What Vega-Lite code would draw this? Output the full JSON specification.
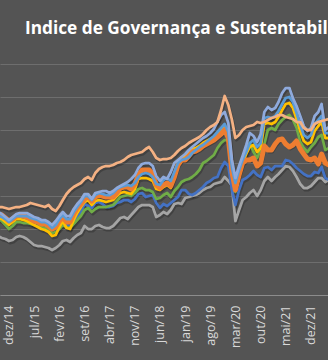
{
"$schema":"https://vega.github.io/schema/vega-lite/v6.json",
"width":328,"height":231,
"autosize":{"type":"none"},
"padding":{"left":0,"top":64,"right":0,"bottom":65},
"background":"#545454",
"title":{"text":"Indice de Governança e Sustentabilidade","anchor":"start","frame":"group","dx":25,"offset":13,"baseline":"alphabetic","font":"Open Sans","fontSize":17.25,"fontWeight":"bold","color":"#ffffff"},
"config":{"view":{"stroke":null}},
"datasets":{"series":[
{"s":"A","d":"2014-09","v":59},{"s":"A","d":"2014-10","v":57},{"s":"A","d":"2014-11","v":56},{"s":"A","d":"2014-12","v":54},{"s":"A","d":"2015-01","v":55},{"s":"A","d":"2015-02","v":58},{"s":"A","d":"2015-03","v":59},{"s":"A","d":"2015-04","v":58},{"s":"A","d":"2015-05","v":56},{"s":"A","d":"2015-06","v":53},{"s":"A","d":"2015-07","v":50},{"s":"A","d":"2015-08","v":49},{"s":"A","d":"2015-09","v":49},{"s":"A","d":"2015-10","v":48},{"s":"A","d":"2015-11","v":47},{"s":"A","d":"2015-12","v":45},{"s":"A","d":"2016-01","v":47},{"s":"A","d":"2016-02","v":50},{"s":"A","d":"2016-03","v":54},{"s":"A","d":"2016-04","v":55},{"s":"A","d":"2016-05","v":53},{"s":"A","d":"2016-06","v":57},{"s":"A","d":"2016-07","v":60},{"s":"A","d":"2016-08","v":62},{"s":"A","d":"2016-09","v":69},{"s":"A","d":"2016-10","v":66},{"s":"A","d":"2016-11","v":66},{"s":"A","d":"2016-12","v":69},{"s":"A","d":"2017-01","v":70},{"s":"A","d":"2017-02","v":68},{"s":"A","d":"2017-03","v":67},{"s":"A","d":"2017-04","v":67},{"s":"A","d":"2017-05","v":69},{"s":"A","d":"2017-06","v":73},{"s":"A","d":"2017-07","v":77},{"s":"A","d":"2017-08","v":78},{"s":"A","d":"2017-09","v":76},{"s":"A","d":"2017-10","v":80},{"s":"A","d":"2017-11","v":84},{"s":"A","d":"2017-12","v":88},{"s":"A","d":"2018-01","v":90},{"s":"A","d":"2018-02","v":90},{"s":"A","d":"2018-03","v":90},{"s":"A","d":"2018-04","v":88},{"s":"A","d":"2018-05","v":78},{"s":"A","d":"2018-06","v":80},{"s":"A","d":"2018-07","v":83},{"s":"A","d":"2018-08","v":81},{"s":"A","d":"2018-09","v":85},{"s":"A","d":"2018-10","v":91},{"s":"A","d":"2018-11","v":92},{"s":"A","d":"2018-12","v":91},{"s":"A","d":"2019-01","v":97},{"s":"A","d":"2019-02","v":98},{"s":"A","d":"2019-03","v":99},{"s":"A","d":"2019-04","v":100},{"s":"A","d":"2019-05","v":102},{"s":"A","d":"2019-06","v":105},{"s":"A","d":"2019-07","v":107},{"s":"A","d":"2019-08","v":108},{"s":"A","d":"2019-09","v":111},{"s":"A","d":"2019-10","v":112},{"s":"A","d":"2019-11","v":113},{"s":"A","d":"2019-12","v":118},{"s":"A","d":"2020-01","v":114},{"s":"A","d":"2020-02","v":109},{"s":"A","d":"2020-03","v":74},{"s":"A","d":"2020-04","v":85},{"s":"A","d":"2020-05","v":95},{"s":"A","d":"2020-06","v":98},{"s":"A","d":"2020-07","v":102},{"s":"A","d":"2020-08","v":105},{"s":"A","d":"2020-09","v":99},{"s":"A","d":"2020-10","v":105},{"s":"A","d":"2020-11","v":114},{"s":"A","d":"2020-12","v":118},{"s":"A","d":"2021-01","v":114},{"s":"A","d":"2021-02","v":118},{"s":"A","d":"2021-03","v":121},{"s":"A","d":"2021-04","v":125},{"s":"A","d":"2021-05","v":129},{"s":"A","d":"2021-06","v":128},{"s":"A","d":"2021-07","v":124},{"s":"A","d":"2021-08","v":118},{"s":"A","d":"2021-09","v":111},{"s":"A","d":"2021-10","v":107},{"s":"A","d":"2021-11","v":107},{"s":"A","d":"2021-12","v":109},{"s":"A","d":"2022-01","v":113},{"s":"A","d":"2022-02","v":117},{"s":"A","d":"2022-03","v":117},{"s":"A","d":"2022-04","v":113},{"s":"A","d":"2022-05","v":115},
{"s":"B","d":"2014-09","v":78},{"s":"B","d":"2014-10","v":77},{"s":"B","d":"2014-11","v":74},{"s":"B","d":"2014-12","v":72},{"s":"B","d":"2015-01","v":74},{"s":"B","d":"2015-02","v":77},{"s":"B","d":"2015-03","v":77},{"s":"B","d":"2015-04","v":76},{"s":"B","d":"2015-05","v":75},{"s":"B","d":"2015-06","v":74},{"s":"B","d":"2015-07","v":73},{"s":"B","d":"2015-08","v":72},{"s":"B","d":"2015-09","v":70},{"s":"B","d":"2015-10","v":70},{"s":"B","d":"2015-11","v":68},{"s":"B","d":"2015-12","v":65},{"s":"B","d":"2016-01","v":66},{"s":"B","d":"2016-02","v":70},{"s":"B","d":"2016-03","v":73},{"s":"B","d":"2016-04","v":70},{"s":"B","d":"2016-05","v":69},{"s":"B","d":"2016-06","v":73},{"s":"B","d":"2016-07","v":77},{"s":"B","d":"2016-08","v":83},{"s":"B","d":"2016-09","v":91},{"s":"B","d":"2016-10","v":89},{"s":"B","d":"2016-11","v":87},{"s":"B","d":"2016-12","v":92},{"s":"B","d":"2017-01","v":93},{"s":"B","d":"2017-02","v":91},{"s":"B","d":"2017-03","v":88},{"s":"B","d":"2017-04","v":88},{"s":"B","d":"2017-05","v":89},{"s":"B","d":"2017-06","v":92},{"s":"B","d":"2017-07","v":93},{"s":"B","d":"2017-08","v":95},{"s":"B","d":"2017-09","v":95},{"s":"B","d":"2017-10","v":93},{"s":"B","d":"2017-11","v":96},{"s":"B","d":"2017-12","v":101},{"s":"B","d":"2018-01","v":102},{"s":"B","d":"2018-02","v":98},{"s":"B","d":"2018-03","v":99},{"s":"B","d":"2018-04","v":100},{"s":"B","d":"2018-05","v":92},{"s":"B","d":"2018-06","v":87},{"s":"B","d":"2018-07","v":91},{"s":"B","d":"2018-08","v":89},{"s":"B","d":"2018-09","v":92},{"s":"B","d":"2018-10","v":95},{"s":"B","d":"2018-11","v":98},{"s":"B","d":"2018-12","v":105},{"s":"B","d":"2019-01","v":105},{"s":"B","d":"2019-02","v":101},{"s":"B","d":"2019-03","v":100},{"s":"B","d":"2019-04","v":102},{"s":"B","d":"2019-05","v":105},{"s":"B","d":"2019-06","v":108},{"s":"B","d":"2019-07","v":112},{"s":"B","d":"2019-08","v":114},{"s":"B","d":"2019-09","v":117},{"s":"B","d":"2019-10","v":118},{"s":"B","d":"2019-11","v":127},{"s":"B","d":"2019-12","v":133},{"s":"B","d":"2020-01","v":129},{"s":"B","d":"2020-02","v":105},{"s":"B","d":"2020-03","v":90},{"s":"B","d":"2020-04","v":105},{"s":"B","d":"2020-05","v":115},{"s":"B","d":"2020-06","v":117},{"s":"B","d":"2020-07","v":120},{"s":"B","d":"2020-08","v":124},{"s":"B","d":"2020-09","v":120},{"s":"B","d":"2020-10","v":118},{"s":"B","d":"2020-11","v":127},{"s":"B","d":"2020-12","v":128},{"s":"B","d":"2021-01","v":125},{"s":"B","d":"2021-02","v":129},{"s":"B","d":"2021-03","v":129},{"s":"B","d":"2021-04","v":129},{"s":"B","d":"2021-05","v":135},{"s":"B","d":"2021-06","v":134},{"s":"B","d":"2021-07","v":131},{"s":"B","d":"2021-08","v":127},{"s":"B","d":"2021-09","v":124},{"s":"B","d":"2021-10","v":121},{"s":"B","d":"2021-11","v":119},{"s":"B","d":"2021-12","v":119},{"s":"B","d":"2022-01","v":123},{"s":"B","d":"2022-02","v":122},{"s":"B","d":"2022-03","v":128},{"s":"B","d":"2022-04","v":117},{"s":"B","d":"2022-05","v":115},
{"s":"C","d":"2014-09","v":76},{"s":"C","d":"2014-10","v":74},{"s":"C","d":"2014-11","v":70},{"s":"C","d":"2014-12","v":66},{"s":"C","d":"2015-01","v":69},{"s":"C","d":"2015-02","v":73},{"s":"C","d":"2015-03","v":73},{"s":"C","d":"2015-04","v":72},{"s":"C","d":"2015-05","v":72},{"s":"C","d":"2015-06","v":71},{"s":"C","d":"2015-07","v":70},{"s":"C","d":"2015-08","v":69},{"s":"C","d":"2015-09","v":68},{"s":"C","d":"2015-10","v":67},{"s":"C","d":"2015-11","v":65},{"s":"C","d":"2015-12","v":62},{"s":"C","d":"2016-01","v":63},{"s":"C","d":"2016-02","v":66},{"s":"C","d":"2016-03","v":70},{"s":"C","d":"2016-04","v":68},{"s":"C","d":"2016-05","v":67},{"s":"C","d":"2016-06","v":71},{"s":"C","d":"2016-07","v":75},{"s":"C","d":"2016-08","v":79},{"s":"C","d":"2016-09","v":85},{"s":"C","d":"2016-10","v":87},{"s":"C","d":"2016-11","v":83},{"s":"C","d":"2016-12","v":86},{"s":"C","d":"2017-01","v":88},{"s":"C","d":"2017-02","v":88},{"s":"C","d":"2017-03","v":88},{"s":"C","d":"2017-04","v":89},{"s":"C","d":"2017-05","v":90},{"s":"C","d":"2017-06","v":94},{"s":"C","d":"2017-07","v":98},{"s":"C","d":"2017-08","v":99},{"s":"C","d":"2017-09","v":100},{"s":"C","d":"2017-10","v":99},{"s":"C","d":"2017-11","v":102},{"s":"C","d":"2017-12","v":106},{"s":"C","d":"2018-01","v":107},{"s":"C","d":"2018-02","v":105},{"s":"C","d":"2018-03","v":105},{"s":"C","d":"2018-04","v":103},{"s":"C","d":"2018-05","v":96},{"s":"C","d":"2018-06","v":97},{"s":"C","d":"2018-07","v":100},{"s":"C","d":"2018-08","v":102},{"s":"C","d":"2018-09","v":98},{"s":"C","d":"2018-10","v":104},{"s":"C","d":"2018-11","v":108},{"s":"C","d":"2018-12","v":113},{"s":"C","d":"2019-01","v":115},{"s":"C","d":"2019-02","v":116},{"s":"C","d":"2019-03","v":118},{"s":"C","d":"2019-04","v":121},{"s":"C","d":"2019-05","v":125},{"s":"C","d":"2019-06","v":132},{"s":"C","d":"2019-07","v":134},{"s":"C","d":"2019-08","v":137},{"s":"C","d":"2019-09","v":140},{"s":"C","d":"2019-10","v":147},{"s":"C","d":"2019-11","v":152},{"s":"C","d":"2019-12","v":155},{"s":"C","d":"2020-01","v":155},{"s":"C","d":"2020-02","v":120},{"s":"C","d":"2020-03","v":103},{"s":"C","d":"2020-04","v":123},{"s":"C","d":"2020-05","v":135},{"s":"C","d":"2020-06","v":145},{"s":"C","d":"2020-07","v":152},{"s":"C","d":"2020-08","v":143},{"s":"C","d":"2020-09","v":137},{"s":"C","d":"2020-10","v":145},{"s":"C","d":"2020-11","v":151},{"s":"C","d":"2020-12","v":165},{"s":"C","d":"2021-01","v":167},{"s":"C","d":"2021-02","v":165},{"s":"C","d":"2021-03","v":171},{"s":"C","d":"2021-04","v":175},{"s":"C","d":"2021-05","v":178},{"s":"C","d":"2021-06","v":180},{"s":"C","d":"2021-07","v":175},{"s":"C","d":"2021-08","v":167},{"s":"C","d":"2021-09","v":153},{"s":"C","d":"2021-10","v":147},{"s":"C","d":"2021-11","v":143},{"s":"C","d":"2021-12","v":148},{"s":"C","d":"2022-01","v":152},{"s":"C","d":"2022-02","v":158},{"s":"C","d":"2022-03","v":160},{"s":"C","d":"2022-04","v":145},{"s":"C","d":"2022-05","v":147},
{"s":"D","d":"2014-09","v":77},{"s":"D","d":"2014-10","v":76},{"s":"D","d":"2014-11","v":73},{"s":"D","d":"2014-12","v":70},{"s":"D","d":"2015-01","v":73},{"s":"D","d":"2015-02","v":76},{"s":"D","d":"2015-03","v":76},{"s":"D","d":"2015-04","v":75},{"s":"D","d":"2015-05","v":74},{"s":"D","d":"2015-06","v":72},{"s":"D","d":"2015-07","v":70},{"s":"D","d":"2015-08","v":68},{"s":"D","d":"2015-09","v":66},{"s":"D","d":"2015-10","v":65},{"s":"D","d":"2015-11","v":63},{"s":"D","d":"2015-12","v":59},{"s":"D","d":"2016-01","v":60},{"s":"D","d":"2016-02","v":68},{"s":"D","d":"2016-03","v":74},{"s":"D","d":"2016-04","v":67},{"s":"D","d":"2016-05","v":66},{"s":"D","d":"2016-06","v":75},{"s":"D","d":"2016-07","v":82},{"s":"D","d":"2016-08","v":88},{"s":"D","d":"2016-09","v":93},{"s":"D","d":"2016-10","v":95},{"s":"D","d":"2016-11","v":90},{"s":"D","d":"2016-12","v":94},{"s":"D","d":"2017-01","v":95},{"s":"D","d":"2017-02","v":94},{"s":"D","d":"2017-03","v":93},{"s":"D","d":"2017-04","v":94},{"s":"D","d":"2017-05","v":95},{"s":"D","d":"2017-06","v":99},{"s":"D","d":"2017-07","v":102},{"s":"D","d":"2017-08","v":103},{"s":"D","d":"2017-09","v":102},{"s":"D","d":"2017-10","v":101},{"s":"D","d":"2017-11","v":106},{"s":"D","d":"2017-12","v":116},{"s":"D","d":"2018-01","v":117},{"s":"D","d":"2018-02","v":117},{"s":"D","d":"2018-03","v":116},{"s":"D","d":"2018-04","v":114},{"s":"D","d":"2018-05","v":106},{"s":"D","d":"2018-06","v":105},{"s":"D","d":"2018-07","v":108},{"s":"D","d":"2018-08","v":110},{"s":"D","d":"2018-09","v":107},{"s":"D","d":"2018-10","v":121},{"s":"D","d":"2018-11","v":133},{"s":"D","d":"2018-12","v":138},{"s":"D","d":"2019-01","v":138},{"s":"D","d":"2019-02","v":142},{"s":"D","d":"2019-03","v":146},{"s":"D","d":"2019-04","v":147},{"s":"D","d":"2019-05","v":149},{"s":"D","d":"2019-06","v":152},{"s":"D","d":"2019-07","v":154},{"s":"D","d":"2019-08","v":156},{"s":"D","d":"2019-09","v":158},{"s":"D","d":"2019-10","v":161},{"s":"D","d":"2019-11","v":164},{"s":"D","d":"2019-12","v":168},{"s":"D","d":"2020-01","v":160},{"s":"D","d":"2020-02","v":125},{"s":"D","d":"2020-03","v":108},{"s":"D","d":"2020-04","v":122},{"s":"D","d":"2020-05","v":132},{"s":"D","d":"2020-06","v":141},{"s":"D","d":"2020-07","v":148},{"s":"D","d":"2020-08","v":150},{"s":"D","d":"2020-09","v":143},{"s":"D","d":"2020-10","v":147},{"s":"D","d":"2020-11","v":171},{"s":"D","d":"2020-12","v":172},{"s":"D","d":"2021-01","v":171},{"s":"D","d":"2021-02","v":173},{"s":"D","d":"2021-03","v":178},{"s":"D","d":"2021-04","v":185},{"s":"D","d":"2021-05","v":191},{"s":"D","d":"2021-06","v":192},{"s":"D","d":"2021-07","v":187},{"s":"D","d":"2021-08","v":176},{"s":"D","d":"2021-09","v":164},{"s":"D","d":"2021-10","v":154},{"s":"D","d":"2021-11","v":151},{"s":"D","d":"2021-12","v":153},{"s":"D","d":"2022-01","v":164},{"s":"D","d":"2022-02","v":169},{"s":"D","d":"2022-03","v":173},{"s":"D","d":"2022-04","v":157},{"s":"D","d":"2022-05","v":157},
{"s":"E","d":"2014-09","v":81},{"s":"E","d":"2014-10","v":80},{"s":"E","d":"2014-11","v":77},{"s":"E","d":"2014-12","v":74},{"s":"E","d":"2015-01","v":76},{"s":"E","d":"2015-02","v":79},{"s":"E","d":"2015-03","v":80},{"s":"E","d":"2015-04","v":79},{"s":"E","d":"2015-05","v":78},{"s":"E","d":"2015-06","v":76},{"s":"E","d":"2015-07","v":74},{"s":"E","d":"2015-08","v":73},{"s":"E","d":"2015-09","v":71},{"s":"E","d":"2015-10","v":71},{"s":"E","d":"2015-11","v":69},{"s":"E","d":"2015-12","v":66},{"s":"E","d":"2016-01","v":68},{"s":"E","d":"2016-02","v":74},{"s":"E","d":"2016-03","v":78},{"s":"E","d":"2016-04","v":73},{"s":"E","d":"2016-05","v":73},{"s":"E","d":"2016-06","v":81},{"s":"E","d":"2016-07","v":87},{"s":"E","d":"2016-08","v":91},{"s":"E","d":"2016-09","v":96},{"s":"E","d":"2016-10","v":99},{"s":"E","d":"2016-11","v":94},{"s":"E","d":"2016-12","v":98},{"s":"E","d":"2017-01","v":100},{"s":"E","d":"2017-02","v":99},{"s":"E","d":"2017-03","v":98},{"s":"E","d":"2017-04","v":98},{"s":"E","d":"2017-05","v":98},{"s":"E","d":"2017-06","v":102},{"s":"E","d":"2017-07","v":107},{"s":"E","d":"2017-08","v":108},{"s":"E","d":"2017-09","v":108},{"s":"E","d":"2017-10","v":106},{"s":"E","d":"2017-11","v":111},{"s":"E","d":"2017-12","v":120},{"s":"E","d":"2018-01","v":125},{"s":"E","d":"2018-02","v":125},{"s":"E","d":"2018-03","v":125},{"s":"E","d":"2018-04","v":121},{"s":"E","d":"2018-05","v":110},{"s":"E","d":"2018-06","v":107},{"s":"E","d":"2018-07","v":110},{"s":"E","d":"2018-08","v":112},{"s":"E","d":"2018-09","v":109},{"s":"E","d":"2018-10","v":118},{"s":"E","d":"2018-11","v":130},{"s":"E","d":"2018-12","v":135},{"s":"E","d":"2019-01","v":135},{"s":"E","d":"2019-02","v":139},{"s":"E","d":"2019-03","v":143},{"s":"E","d":"2019-04","v":144},{"s":"E","d":"2019-05","v":146},{"s":"E","d":"2019-06","v":149},{"s":"E","d":"2019-07","v":151},{"s":"E","d":"2019-08","v":153},{"s":"E","d":"2019-09","v":155},{"s":"E","d":"2019-10","v":158},{"s":"E","d":"2019-11","v":161},{"s":"E","d":"2019-12","v":165},{"s":"E","d":"2020-01","v":157},{"s":"E","d":"2020-02","v":123},{"s":"E","d":"2020-03","v":105},{"s":"E","d":"2020-04","v":120},{"s":"E","d":"2020-05","v":132},{"s":"E","d":"2020-06","v":135},{"s":"E","d":"2020-07","v":135},{"s":"E","d":"2020-08","v":137},{"s":"E","d":"2020-09","v":129},{"s":"E","d":"2020-10","v":132},{"s":"E","d":"2020-11","v":149},{"s":"E","d":"2020-12","v":145},{"s":"E","d":"2021-01","v":145},{"s":"E","d":"2021-02","v":151},{"s":"E","d":"2021-03","v":155},{"s":"E","d":"2021-04","v":156},{"s":"E","d":"2021-05","v":151},{"s":"E","d":"2021-06","v":148},{"s":"E","d":"2021-07","v":150},{"s":"E","d":"2021-08","v":154},{"s":"E","d":"2021-09","v":146},{"s":"E","d":"2021-10","v":141},{"s":"E","d":"2021-11","v":136},{"s":"E","d":"2021-12","v":135},{"s":"E","d":"2022-01","v":137},{"s":"E","d":"2022-02","v":131},{"s":"E","d":"2022-03","v":141},{"s":"E","d":"2022-04","v":132},{"s":"E","d":"2022-05","v":130},
{"s":"F","d":"2014-09","v":79},{"s":"F","d":"2014-10","v":78},{"s":"F","d":"2014-11","v":76},{"s":"F","d":"2014-12","v":73},{"s":"F","d":"2015-01","v":76},{"s":"F","d":"2015-02","v":79},{"s":"F","d":"2015-03","v":79},{"s":"F","d":"2015-04","v":79},{"s":"F","d":"2015-05","v":79},{"s":"F","d":"2015-06","v":77},{"s":"F","d":"2015-07","v":76},{"s":"F","d":"2015-08","v":75},{"s":"F","d":"2015-09","v":73},{"s":"F","d":"2015-10","v":73},{"s":"F","d":"2015-11","v":71},{"s":"F","d":"2015-12","v":67},{"s":"F","d":"2016-01","v":70},{"s":"F","d":"2016-02","v":76},{"s":"F","d":"2016-03","v":80},{"s":"F","d":"2016-04","v":76},{"s":"F","d":"2016-05","v":76},{"s":"F","d":"2016-06","v":83},{"s":"F","d":"2016-07","v":88},{"s":"F","d":"2016-08","v":93},{"s":"F","d":"2016-09","v":99},{"s":"F","d":"2016-10","v":99},{"s":"F","d":"2016-11","v":95},{"s":"F","d":"2016-12","v":100},{"s":"F","d":"2017-01","v":102},{"s":"F","d":"2017-02","v":101},{"s":"F","d":"2017-03","v":100},{"s":"F","d":"2017-04","v":100},{"s":"F","d":"2017-05","v":102},{"s":"F","d":"2017-06","v":106},{"s":"F","d":"2017-07","v":108},{"s":"F","d":"2017-08","v":109},{"s":"F","d":"2017-09","v":110},{"s":"F","d":"2017-10","v":109},{"s":"F","d":"2017-11","v":112},{"s":"F","d":"2017-12","v":118},{"s":"F","d":"2018-01","v":121},{"s":"F","d":"2018-02","v":122},{"s":"F","d":"2018-03","v":121},{"s":"F","d":"2018-04","v":118},{"s":"F","d":"2018-05","v":111},{"s":"F","d":"2018-06","v":110},{"s":"F","d":"2018-07","v":115},{"s":"F","d":"2018-08","v":117},{"s":"F","d":"2018-09","v":114},{"s":"F","d":"2018-10","v":123},{"s":"F","d":"2018-11","v":132},{"s":"F","d":"2018-12","v":135},{"s":"F","d":"2019-01","v":136},{"s":"F","d":"2019-02","v":138},{"s":"F","d":"2019-03","v":142},{"s":"F","d":"2019-04","v":145},{"s":"F","d":"2019-05","v":148},{"s":"F","d":"2019-06","v":150},{"s":"F","d":"2019-07","v":153},{"s":"F","d":"2019-08","v":156},{"s":"F","d":"2019-09","v":159},{"s":"F","d":"2019-10","v":163},{"s":"F","d":"2019-11","v":167},{"s":"F","d":"2019-12","v":171},{"s":"F","d":"2020-01","v":163},{"s":"F","d":"2020-02","v":127},{"s":"F","d":"2020-03","v":112},{"s":"F","d":"2020-04","v":125},{"s":"F","d":"2020-05","v":135},{"s":"F","d":"2020-06","v":143},{"s":"F","d":"2020-07","v":152},{"s":"F","d":"2020-08","v":155},{"s":"F","d":"2020-09","v":148},{"s":"F","d":"2020-10","v":152},{"s":"F","d":"2020-11","v":177},{"s":"F","d":"2020-12","v":178},{"s":"F","d":"2021-01","v":177},{"s":"F","d":"2021-02","v":179},{"s":"F","d":"2021-03","v":184},{"s":"F","d":"2021-04","v":191},{"s":"F","d":"2021-05","v":197},{"s":"F","d":"2021-06","v":198},{"s":"F","d":"2021-07","v":193},{"s":"F","d":"2021-08","v":182},{"s":"F","d":"2021-09","v":170},{"s":"F","d":"2021-10","v":160},{"s":"F","d":"2021-11","v":157},{"s":"F","d":"2021-12","v":160},{"s":"F","d":"2022-01","v":171},{"s":"F","d":"2022-02","v":175},{"s":"F","d":"2022-03","v":179},{"s":"F","d":"2022-04","v":162},{"s":"F","d":"2022-05","v":162},
{"s":"G","d":"2014-09","v":83},{"s":"G","d":"2014-10","v":81},{"s":"G","d":"2014-11","v":78},{"s":"G","d":"2014-12","v":75},{"s":"G","d":"2015-01","v":78},{"s":"G","d":"2015-02","v":81},{"s":"G","d":"2015-03","v":82},{"s":"G","d":"2015-04","v":82},{"s":"G","d":"2015-05","v":82},{"s":"G","d":"2015-06","v":80},{"s":"G","d":"2015-07","v":78},{"s":"G","d":"2015-08","v":77},{"s":"G","d":"2015-09","v":75},{"s":"G","d":"2015-10","v":75},{"s":"G","d":"2015-11","v":73},{"s":"G","d":"2015-12","v":70},{"s":"G","d":"2016-01","v":74},{"s":"G","d":"2016-02","v":79},{"s":"G","d":"2016-03","v":83},{"s":"G","d":"2016-04","v":79},{"s":"G","d":"2016-05","v":79},{"s":"G","d":"2016-06","v":86},{"s":"G","d":"2016-07","v":91},{"s":"G","d":"2016-08","v":95},{"s":"G","d":"2016-09","v":101},{"s":"G","d":"2016-10","v":101},{"s":"G","d":"2016-11","v":96},{"s":"G","d":"2016-12","v":102},{"s":"G","d":"2017-01","v":103},{"s":"G","d":"2017-02","v":104},{"s":"G","d":"2017-03","v":104},{"s":"G","d":"2017-04","v":102},{"s":"G","d":"2017-05","v":104},{"s":"G","d":"2017-06","v":107},{"s":"G","d":"2017-07","v":109},{"s":"G","d":"2017-08","v":111},{"s":"G","d":"2017-09","v":113},{"s":"G","d":"2017-10","v":116},{"s":"G","d":"2017-11","v":120},{"s":"G","d":"2017-12","v":127},{"s":"G","d":"2018-01","v":131},{"s":"G","d":"2018-02","v":132},{"s":"G","d":"2018-03","v":132},{"s":"G","d":"2018-04","v":129},{"s":"G","d":"2018-05","v":119},{"s":"G","d":"2018-06","v":114},{"s":"G","d":"2018-07","v":118},{"s":"G","d":"2018-08","v":116},{"s":"G","d":"2018-09","v":123},{"s":"G","d":"2018-10","v":132},{"s":"G","d":"2018-11","v":135},{"s":"G","d":"2018-12","v":138},{"s":"G","d":"2019-01","v":141},{"s":"G","d":"2019-02","v":145},{"s":"G","d":"2019-03","v":148},{"s":"G","d":"2019-04","v":151},{"s":"G","d":"2019-05","v":154},{"s":"G","d":"2019-06","v":157},{"s":"G","d":"2019-07","v":159},{"s":"G","d":"2019-08","v":162},{"s":"G","d":"2019-09","v":166},{"s":"G","d":"2019-10","v":173},{"s":"G","d":"2019-11","v":180},{"s":"G","d":"2019-12","v":183},{"s":"G","d":"2020-01","v":172},{"s":"G","d":"2020-02","v":135},{"s":"G","d":"2020-03","v":117},{"s":"G","d":"2020-04","v":129},{"s":"G","d":"2020-05","v":139},{"s":"G","d":"2020-06","v":150},{"s":"G","d":"2020-07","v":162},{"s":"G","d":"2020-08","v":159},{"s":"G","d":"2020-09","v":153},{"s":"G","d":"2020-10","v":161},{"s":"G","d":"2020-11","v":183},{"s":"G","d":"2020-12","v":188},{"s":"G","d":"2021-01","v":185},{"s":"G","d":"2021-02","v":187},{"s":"G","d":"2021-03","v":193},{"s":"G","d":"2021-04","v":202},{"s":"G","d":"2021-05","v":207},{"s":"G","d":"2021-06","v":207},{"s":"G","d":"2021-07","v":197},{"s":"G","d":"2021-08","v":189},{"s":"G","d":"2021-09","v":179},{"s":"G","d":"2021-10","v":169},{"s":"G","d":"2021-11","v":164},{"s":"G","d":"2021-12","v":167},{"s":"G","d":"2022-01","v":179},{"s":"G","d":"2022-02","v":183},{"s":"G","d":"2022-03","v":191},{"s":"G","d":"2022-04","v":165},{"s":"G","d":"2022-05","v":168},
{"s":"H","d":"2014-09","v":88},{"s":"H","d":"2014-10","v":88},{"s":"H","d":"2014-11","v":87},{"s":"H","d":"2014-12","v":86},{"s":"H","d":"2015-01","v":87},{"s":"H","d":"2015-02","v":88},{"s":"H","d":"2015-03","v":88},{"s":"H","d":"2015-04","v":89},{"s":"H","d":"2015-05","v":90},{"s":"H","d":"2015-06","v":92},{"s":"H","d":"2015-07","v":91},{"s":"H","d":"2015-08","v":90},{"s":"H","d":"2015-09","v":89},{"s":"H","d":"2015-10","v":88},{"s":"H","d":"2015-11","v":90},{"s":"H","d":"2015-12","v":86},{"s":"H","d":"2016-01","v":84},{"s":"H","d":"2016-02","v":89},{"s":"H","d":"2016-03","v":95},{"s":"H","d":"2016-04","v":101},{"s":"H","d":"2016-05","v":105},{"s":"H","d":"2016-06","v":108},{"s":"H","d":"2016-07","v":110},{"s":"H","d":"2016-08","v":112},{"s":"H","d":"2016-09","v":116},{"s":"H","d":"2016-10","v":118},{"s":"H","d":"2016-11","v":115},{"s":"H","d":"2016-12","v":122},{"s":"H","d":"2017-01","v":126},{"s":"H","d":"2017-02","v":128},{"s":"H","d":"2017-03","v":129},{"s":"H","d":"2017-04","v":129},{"s":"H","d":"2017-05","v":130},{"s":"H","d":"2017-06","v":132},{"s":"H","d":"2017-07","v":133},{"s":"H","d":"2017-08","v":135},{"s":"H","d":"2017-09","v":138},{"s":"H","d":"2017-10","v":140},{"s":"H","d":"2017-11","v":141},{"s":"H","d":"2017-12","v":142},{"s":"H","d":"2018-01","v":143},{"s":"H","d":"2018-02","v":146},{"s":"H","d":"2018-03","v":148},{"s":"H","d":"2018-04","v":143},{"s":"H","d":"2018-05","v":137},{"s":"H","d":"2018-06","v":135},{"s":"H","d":"2018-07","v":136},{"s":"H","d":"2018-08","v":136},{"s":"H","d":"2018-09","v":137},{"s":"H","d":"2018-10","v":140},{"s":"H","d":"2018-11","v":144},{"s":"H","d":"2018-12","v":147},{"s":"H","d":"2019-01","v":149},{"s":"H","d":"2019-02","v":152},{"s":"H","d":"2019-03","v":154},{"s":"H","d":"2019-04","v":156},{"s":"H","d":"2019-05","v":158},{"s":"H","d":"2019-06","v":161},{"s":"H","d":"2019-07","v":165},{"s":"H","d":"2019-08","v":168},{"s":"H","d":"2019-09","v":170},{"s":"H","d":"2019-10","v":173},{"s":"H","d":"2019-11","v":185},{"s":"H","d":"2019-12","v":199},{"s":"H","d":"2020-01","v":190},{"s":"H","d":"2020-02","v":175},{"s":"H","d":"2020-03","v":157},{"s":"H","d":"2020-04","v":160},{"s":"H","d":"2020-05","v":165},{"s":"H","d":"2020-06","v":168},{"s":"H","d":"2020-07","v":169},{"s":"H","d":"2020-08","v":170},{"s":"H","d":"2020-09","v":173},{"s":"H","d":"2020-10","v":172},{"s":"H","d":"2020-11","v":173},{"s":"H","d":"2020-12","v":175},{"s":"H","d":"2021-01","v":177},{"s":"H","d":"2021-02","v":178},{"s":"H","d":"2021-03","v":180},{"s":"H","d":"2021-04","v":180},{"s":"H","d":"2021-05","v":178},{"s":"H","d":"2021-06","v":177},{"s":"H","d":"2021-07","v":176},{"s":"H","d":"2021-08","v":173},{"s":"H","d":"2021-09","v":173},{"s":"H","d":"2021-10","v":167},{"s":"H","d":"2021-11","v":165},{"s":"H","d":"2021-12","v":165},{"s":"H","d":"2022-01","v":171},{"s":"H","d":"2022-02","v":173},{"s":"H","d":"2022-03","v":174},{"s":"H","d":"2022-04","v":175},{"s":"H","d":"2022-05","v":176}
]},
"data":{"name":"series"},
"encoding":{
 "x":{"field":"d","type":"temporal",
  "scale":{"type":"utc","domain":[{"year":2014,"month":9,"date":16,"utc":true},{"year":2022,"month":4,"date":24,"utc":true}]},
  "axis":{"title":null,"grid":false,"ticks":false,"tickSize":0,"domainColor":"#8c8c8c","domainWidth":1,
   "labelAngle":-90,"labelPadding":10,"labelFont":"Open Sans","labelFontSize":12.5,"labelColor":"#d9d9d9","labelOverlap":false,"labelFlush":false,"labelBound":false,
   "values":[{"year":2014,"month":12,"date":1,"utc":true},{"year":2015,"month":7,"date":1,"utc":true},{"year":2016,"month":2,"date":1,"utc":true},{"year":2016,"month":9,"date":1,"utc":true},{"year":2017,"month":4,"date":1,"utc":true},{"year":2017,"month":11,"date":1,"utc":true},{"year":2018,"month":6,"date":1,"utc":true},{"year":2019,"month":1,"date":1,"utc":true},{"year":2019,"month":8,"date":1,"utc":true},{"year":2020,"month":3,"date":1,"utc":true},{"year":2020,"month":10,"date":1,"utc":true},{"year":2021,"month":5,"date":1,"utc":true},{"year":2021,"month":12,"date":1,"utc":true}],
   "labelExpr":"['jan','fev','mar','abr','mai','jun','jul','ago','set','out','nov','dez'][utcmonth(datum.value)] + '/' + utcFormat(datum.value, '%y')"}},
 "y":{"field":"v","type":"quantitative","scale":{"domain":[0,231],"nice":false,"zero":true},
  "axis":{"title":null,"labels":false,"ticks":false,"domain":false,"grid":true,"gridColor":"#6e6e6e","gridWidth":1,"values":[0,33,66,99,132,165,198,231]}}
},
"layer":[
 {"mark":{"type":"line","color":"#000000","opacity":0.22,"strokeWidth":3,"xOffset":1,"yOffset":2,"clip":true,"strokeJoin":"round"},"encoding":{"detail":{"field":"s"}}},
 {"transform":[{"filter":"datum.s==='A'"}],"mark":{"type":"line","color":"#A5A5A5","strokeWidth":2.75,"clip":true,"strokeJoin":"round","strokeCap":"round"},"encoding":{}},
 {"transform":[{"filter":"datum.s==='B'"}],"mark":{"type":"line","color":"#4472C4","strokeWidth":2.75,"clip":true,"strokeJoin":"round","strokeCap":"round"},"encoding":{}},
 {"transform":[{"filter":"datum.s==='C'"}],"mark":{"type":"line","color":"#70AD47","strokeWidth":2.75,"clip":true,"strokeJoin":"round","strokeCap":"round"},"encoding":{}},
 {"transform":[{"filter":"datum.s==='D'"}],"mark":{"type":"line","color":"#FFC000","strokeWidth":2.75,"clip":true,"strokeJoin":"round","strokeCap":"round"},"encoding":{}},
 {"transform":[{"filter":"datum.s==='E'"}],"mark":{"type":"line","color":"#ED7D31","strokeWidth":5,"clip":true,"strokeJoin":"round","strokeCap":"round"},"encoding":{}},
 {"transform":[{"filter":"datum.s==='F'"}],"mark":{"type":"line","color":"#5B9BD5","strokeWidth":2.75,"clip":true,"strokeJoin":"round","strokeCap":"round"},"encoding":{}},
 {"transform":[{"filter":"datum.s==='G'"}],"mark":{"type":"line","color":"#8FAADC","strokeWidth":2.75,"clip":true,"strokeJoin":"round","strokeCap":"round"},"encoding":{}},
 {"transform":[{"filter":"datum.s==='H'"}],"mark":{"type":"line","color":"#F4B183","strokeWidth":2.75,"clip":true,"strokeJoin":"round","strokeCap":"round"},"encoding":{}}
]
}
